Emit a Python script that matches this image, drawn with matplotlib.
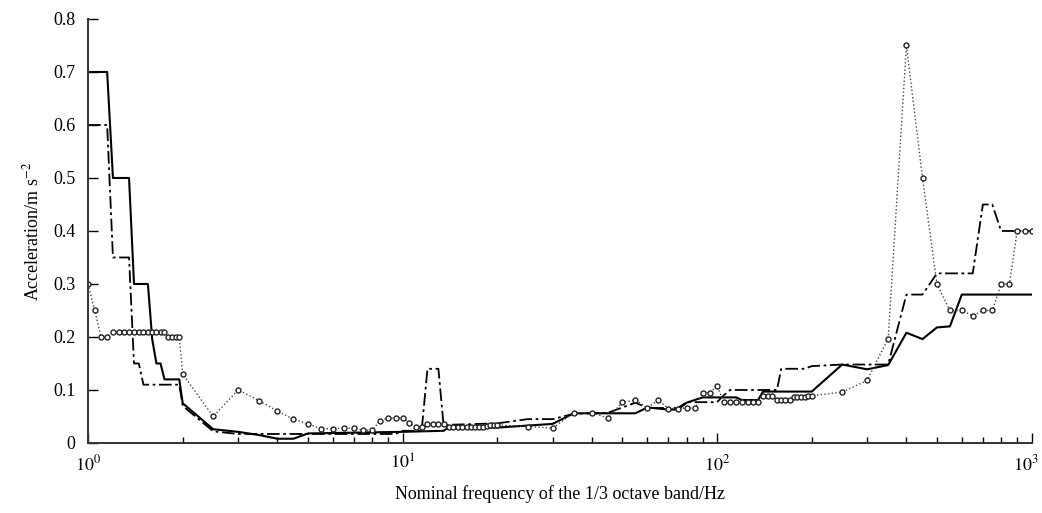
import matplotlib
matplotlib.use("Agg")
import matplotlib.pyplot as plt
import matplotlib.transforms as mtransforms
from matplotlib.ticker import LogLocator, NullFormatter, FixedLocator

plt.rcParams['font.family'] = ['Liberation Serif', 'DejaVu Serif']
plt.rcParams['mathtext.fontset'] = 'stix'

# Dotted series with markers (measured)
freq_dot = [1.0, 1.05, 1.1, 1.15, 1.2, 1.25, 1.3, 1.35, 1.4, 1.45, 1.5, 1.55, 1.6, 1.65, 1.7, 1.75,
            1.8, 1.85, 1.9, 1.95, 2.0, 2.5, 3.0, 3.5, 4.0, 4.5, 5.0, 5.5, 6.0, 6.5, 7.0, 7.5, 8.0,
            8.5, 9.0, 9.5, 10.0, 10.5, 11.0, 11.5, 12.0, 12.5, 13.0, 13.5, 14.0, 14.5, 15.0, 15.5,
            16.0, 16.5, 17.0, 17.5, 18.0, 18.5, 19.0, 19.5, 20.0, 25, 30, 35, 40, 45, 50, 55, 60,
            65, 70, 75, 80, 85, 90, 95, 100, 105, 110, 115, 120, 125, 130, 135, 140, 145, 150, 155,
            160, 165, 170, 175, 180, 185, 190, 195, 200, 250, 300, 350, 400, 450, 500, 550, 600,
            650, 700, 750, 800, 850, 900, 950, 1000]
acc_dot = [0.30, 0.25, 0.20, 0.20, 0.21, 0.21, 0.21, 0.21, 0.21, 0.21, 0.21, 0.21, 0.21, 0.21, 0.21, 0.21,
           0.20, 0.20, 0.20, 0.20, 0.13, 0.05, 0.10, 0.08, 0.06, 0.045, 0.036, 0.027, 0.027, 0.028, 0.028, 0.024, 0.024,
           0.042, 0.047, 0.047, 0.047, 0.037, 0.031, 0.031, 0.036, 0.036, 0.036, 0.036, 0.031, 0.031, 0.031, 0.031,
           0.031, 0.031, 0.031, 0.031, 0.031, 0.032, 0.033, 0.033, 0.034, 0.031, 0.028, 0.057, 0.057, 0.047, 0.077, 0.081, 0.066,
           0.081, 0.065, 0.065, 0.066, 0.066, 0.095, 0.095, 0.108, 0.077, 0.077, 0.077, 0.077, 0.077, 0.077, 0.077, 0.088, 0.088, 0.088, 0.082,
           0.082, 0.082, 0.082, 0.086, 0.086, 0.086, 0.087, 0.088, 0.089, 0.096, 0.118, 0.197, 0.75, 0.50, 0.30, 0.25, 0.25,
           0.24, 0.25, 0.25, 0.30, 0.30, 0.40, 0.40, 0.40]

# Solid series (break points)
freq_solid = [1.0, 1.15, 1.2, 1.35, 1.4, 1.55, 1.6, 1.65, 1.7, 1.75, 1.95, 2.0, 2.5, 3.0, 3.5, 4.0, 4.5,
              5.0, 10.0, 13.5, 14.0, 20.0, 30, 35, 55, 60, 70, 75, 80, 90, 115, 120, 135, 140, 200,
              250, 300, 350, 400, 450, 500, 550, 600, 1000]
acc_solid = [0.70, 0.70, 0.50, 0.50, 0.30, 0.30, 0.195, 0.15, 0.15, 0.12, 0.12, 0.075, 0.026, 0.021, 0.015, 0.008, 0.008,
             0.018, 0.021, 0.023, 0.029, 0.029, 0.036, 0.056, 0.056, 0.067, 0.063, 0.063, 0.076, 0.086, 0.086, 0.081, 0.081, 0.097, 0.097,
             0.148, 0.139, 0.147, 0.208, 0.196, 0.218, 0.22, 0.28, 0.28]

# Dash-dot series (break points)
freq_dash = [1.0, 1.15, 1.2, 1.35, 1.4, 1.45, 1.5, 1.95, 2.0, 2.5, 3.0, 4.0, 9.5, 10.0, 11.5, 12.0, 13.0, 13.5,
             20.0, 25, 30, 35, 45, 50, 55, 60, 75, 80, 100, 105, 110, 155, 160, 190, 200, 250, 350,
             400, 450, 500, 650, 700, 750, 800, 1000]
acc_dash = [0.60, 0.60, 0.35, 0.35, 0.15, 0.15, 0.11, 0.11, 0.07, 0.022, 0.017, 0.017, 0.017, 0.023, 0.023, 0.14, 0.14, 0.034,
            0.037, 0.045, 0.045, 0.055, 0.057, 0.067, 0.076, 0.066, 0.066, 0.077, 0.077, 0.09, 0.10, 0.10, 0.14, 0.14, 0.145, 0.148, 0.148,
            0.28, 0.28, 0.32, 0.32, 0.45, 0.45, 0.40, 0.40]

yticks = [0, 0.1, 0.2, 0.3, 0.4, 0.5, 0.6, 0.7, 0.8]
ytick_labels = ['0', '0.1', '0.2', '0.3', '0.4', '0.5', '0.6', '0.7', '0.8']
xticks = [1, 10, 100, 1000]
xtick_labels = ['$10^0$', '$10^1$', '$10^2$', '$10^3$']

fig = plt.figure(figsize=(10.42, 5.13), dpi=100)
ax = fig.add_axes([0.0845, 0.1365, 0.9055, 0.8265])

ax.plot(freq_solid, acc_solid, color='black', lw=1.5, ls='-')
ax.plot(freq_dash, acc_dash, color='black', lw=1.3, ls=(0, (7, 2, 1.5, 2)))
ax.plot(freq_dot, acc_dot, color='#444444', lw=1.0, ls=':', marker='o', ms=3.6,
        mfc='white', mec='#222222', mew=1.0)

ax.set_xscale('log')
ax.set_xlim(1, 1000)
ax.set_ylim(0, 0.8)
ax.set_yticks(yticks)
ax.set_yticklabels(ytick_labels)
ax.xaxis.set_major_locator(FixedLocator(xticks))
ax.xaxis.set_major_formatter(NullFormatter())
ax.xaxis.set_minor_locator(LogLocator(base=10, subs=range(2, 10), numticks=20))
ax.xaxis.set_minor_formatter(NullFormatter())

for s in ['top', 'right']:
    ax.spines[s].set_visible(False)
for s in ['left', 'bottom']:
    ax.spines[s].set_color('#333333')
    ax.spines[s].set_linewidth(1.4)

ax.tick_params(axis='y', which='major', direction='in', length=7, width=1, pad=9, labelsize=13)
ax.tick_params(axis='x', which='major', direction='in', length=7, width=1)
ax.tick_params(axis='x', which='minor', direction='in', length=4, width=1)

# x tick labels as text anchored to tick positions
trans = mtransforms.blended_transform_factory(ax.transData, ax.transAxes)
for i, (xv, lab) in enumerate(zip(xticks, xtick_labels)):
    t = trans + mtransforms.ScaledTranslation((-4 / 72) if i == len(xticks) - 1 else 0,
                                              -8 / 72, fig.dpi_scale_trans)
    ax.text(xv, 0, lab, transform=t, ha='center', va='top', fontsize=13, clip_on=False)

ax.set_xlabel('Nominal frequency of the 1/3 octave band/Hz', fontsize=13, labelpad=27)
ax.set_ylabel('Acceleration/m s$^{-2}$', fontsize=13, labelpad=8)

fig.savefig('out.png', dpi=100)
